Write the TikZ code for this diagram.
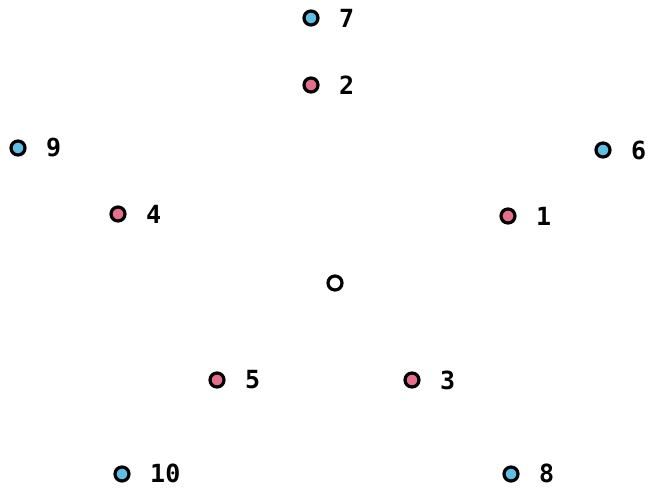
\documentclass[tikz,border=0pt]{standalone}
\usepackage{fontspec}
\setmonofont{DejaVu Sans Mono}
\definecolor{dotblue}{RGB}{95,190,230}
\definecolor{dotpink}{RGB}{230,110,140}
\begin{document}
\begin{tikzpicture}[x=1pt,y=-1pt,
  dot/.style={circle,draw=black,line width=3.2pt,minimum size=14pt,inner sep=0pt},
  bluedot/.style={dot,fill=dotblue},
  pinkdot/.style={dot,fill=dotpink},
  num/.style={anchor=west,font=\ttfamily\bfseries\fontsize{25}{25}\selectfont,inner sep=0pt}]
\useasboundingbox (0,0) rectangle (650,489);
\node[bluedot] (d7) at (311,18) {};
\node[num] (l7) at (339,18) {7};
\node[pinkdot] (d2) at (311,85) {};
\node[num] (l2) at (339,85) {2};
\node[bluedot] (d9) at (18,148) {};
\node[num] (l9) at (46,148) {9};
\node[bluedot] (d6) at (603,150) {};
\node[num] (l6) at (631,150) {6};
\node[pinkdot] (d4) at (118,214) {};
\node[num] (l4) at (146,214) {4};
\node[pinkdot] (d1) at (508,216) {};
\node[num] (l1) at (536,216) {1};
\node[dot,fill=white] (c) at (335,283) {};
\node[pinkdot] (d5) at (217,380) {};
\node[num] (l5) at (245,380) {5};
\node[pinkdot] (d3) at (412,380) {};
\node[num] (l3) at (440,380) {3};
\node[bluedot] (d10) at (122,474) {};
\node[num] (l10) at (150,473) {10};
\node[bluedot] (d8) at (511,474) {};
\node[num] (l8) at (539,473) {8};
\end{tikzpicture}
\end{document}
